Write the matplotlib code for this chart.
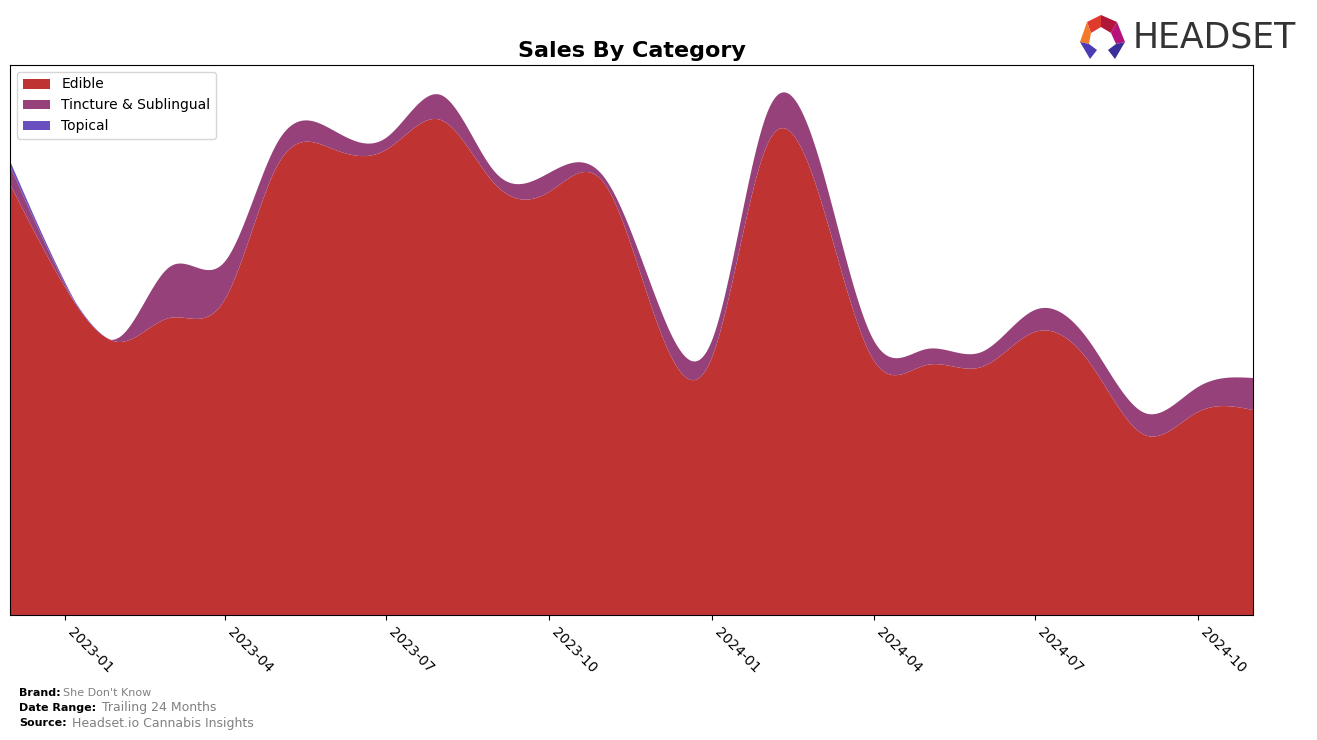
import numpy as np
import pandas as pd
import matplotlib.pyplot as plt
import matplotlib.dates as mdates
from matplotlib.patches import Polygon

# monthly values (arbitrary units)
months = pd.date_range('2022-12-01', '2024-11-01', freq='MS')
edible = [431, 328, 273, 297, 315, 450, 466, 465, 495, 430, 423, 432,
          292, 258, 470, 422, 255, 250, 248, 283, 252, 180, 203, 205]
tincture = [18, 3, 5, 51, 38, 23, 19, 12, 25, 12, 19, 6,
            22, 17, 32, 36, 20, 16, 15, 22, 21, 22, 25, 32]
topical = [5, 2, 0, 0, 0, 0, 0, 0, 0, 0, 0, 0,
           0, 0, 0, 0, 0, 0, 0, 0, 0, 0, 0, 0]

categories = ['Edible', 'Tincture & Sublingual', 'Topical']
colors = ['#c03333', '#96417a', '#6a4fc0']


def natural_spline(x, y, xs):
    # natural cubic spline, only used to smooth the drawn curve
    x = np.asarray(x, float)
    y = np.asarray(y, float)
    n = len(x)
    h = np.diff(x)
    A = np.zeros((n, n))
    b = np.zeros(n)
    A[0, 0] = A[-1, -1] = 1
    for i in range(1, n - 1):
        A[i, i - 1] = h[i - 1]
        A[i, i] = 2 * (h[i - 1] + h[i])
        A[i, i + 1] = h[i]
        b[i] = 3 * ((y[i + 1] - y[i]) / h[i] - (y[i] - y[i - 1]) / h[i - 1])
    c = np.linalg.solve(A, b)
    idx = np.clip(np.searchsorted(x, xs) - 1, 0, n - 2)
    dx = xs - x[idx]
    hi = h[idx]
    bb = (y[idx + 1] - y[idx]) / hi - hi * (2 * c[idx] + c[idx + 1]) / 3
    d = (c[idx + 1] - c[idx]) / (3 * hi)
    return y[idx] + bb * dx + c[idx] * dx ** 2 + d * dx ** 3


xnum = mdates.date2num(months)
xs = np.linspace(xnum[0], xnum[-1], 800)
smooth = [np.clip(natural_spline(xnum, s, xs), 0, None) for s in (edible, tincture, topical)]

fig = plt.figure(figsize=(13.17, 7.4), dpi=100)
ax = fig.add_axes([10 / 1317, 1 - 615 / 740, 1243 / 1317, 550 / 740])
ax.stackplot(mdates.num2date(xs), *smooth, labels=categories, colors=colors)

ax.set_xlim(months[0], months[-1])
ax.set_ylim(0, 550)
ax.set_yticks([])
ax.xaxis.set_major_locator(mdates.MonthLocator(bymonth=[1, 4, 7, 10]))
ax.xaxis.set_major_formatter(mdates.DateFormatter('%Y-%m'))
plt.setp(ax.get_xticklabels(), rotation=-45, ha='left', fontsize=10)
ax.set_title('Sales By Category', fontsize=16, fontweight='bold')
ax.legend(loc='upper left', fontsize=10)

# footer
fig.text(19 / 1317, 1 - 693 / 740, 'Brand:', fontsize=8, fontweight='bold', va='center')
fig.text(63 / 1317, 1 - 693 / 740, "She Don't Know", fontsize=8, color='gray', va='center')
fig.text(19 / 1317, 1 - 708 / 740, 'Date Range:', fontsize=8, fontweight='bold', va='center')
fig.text(102 / 1317, 1 - 708 / 740, 'Trailing 24 Months', fontsize=9, color='gray', va='center')
fig.text(19 / 1317, 1 - 723 / 740, 'Source:', fontsize=8, fontweight='bold', va='center')
fig.text(72 / 1317, 1 - 723 / 740, 'Headset.io Cannabis Insights', fontsize=9, color='gray', va='center')

# logo
def px(x, y):
    return (x / 1317, 1 - y / 740)

logo = [
    ([(1087, 22), (1101, 15), (1101, 27), (1091, 33)], '#e03a2e'),
    ([(1101, 15), (1117, 22), (1111, 33), (1101, 27)], '#b0163a'),
    ([(1117, 22), (1125, 42), (1116, 44), (1111, 33)], '#b5127e'),
    ([(1087, 22), (1091, 33), (1089, 44), (1080, 42)], '#f07a2a'),
    ([(1080, 42), (1089, 44), (1097, 50), (1090, 59)], '#4b3cb5'),
    ([(1125, 42), (1116, 44), (1108, 50), (1115, 59)], '#3a2e9a'),
]
for pts, col in logo:
    fig.patches.append(Polygon([px(*p) for p in pts], closed=True, transform=fig.transFigure,
                               facecolor=col, edgecolor='none'))
fig.text(1133 / 1317, 1 - 38 / 740, 'HEADSET', fontsize=25, color='#333333', va='center')

fig.savefig('out.png', dpi=100)
